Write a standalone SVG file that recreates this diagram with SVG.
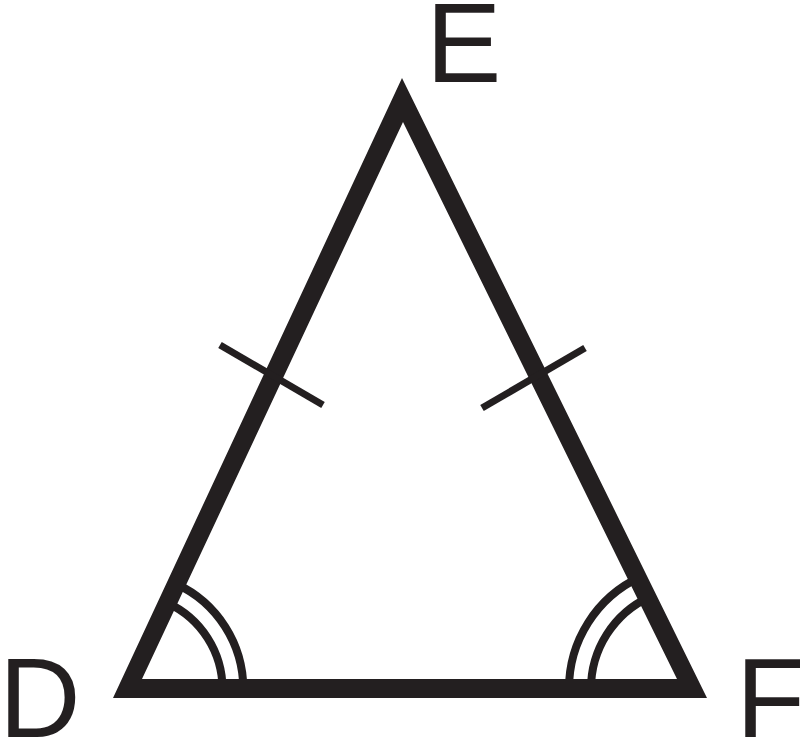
<svg xmlns="http://www.w3.org/2000/svg" width="800" height="737" viewBox="0 0 800 737">
<style>
.lbl{font-family:"Liberation Sans",Arial,sans-serif;font-size:113px;fill:#231f20}
.arc{fill:none;stroke:#231f20;stroke-width:8}
.tick{stroke:#231f20;stroke-width:7;stroke-linecap:butt}
</style>
<rect width="800" height="737" fill="#ffffff"/>
<g id="angle-marks">
<path class="arc" d="M222.5,689 A95,95 0 0 0 167.6,603"/>
<path class="arc" d="M243.3,689 A115.8,115.8 0 0 0 176.4,584"/>
<path class="arc" d="M591,689 A101,101 0 0 1 649.5,597"/>
<path class="arc" d="M569,689 A123,123 0 0 1 640.2,577"/>
</g>
<g id="triangle">
<path fill="#231f20" fill-rule="evenodd" d="M402,78 L707,698 L113,698 Z M403,122 L142,679 L677,679 Z"/>
</g>
<g id="ticks">
<line class="tick" x1="220" y1="345" x2="323" y2="405"/>
<line class="tick" x1="482" y1="408" x2="585" y2="348"/>
</g>
<g id="node-E"><text class="lbl" x="426" y="82">E</text></g>
<g id="node-D"><text class="lbl" x="-1" y="737">D</text></g>
<g id="node-F"><text class="lbl" x="736" y="738">F</text></g>
</svg>
